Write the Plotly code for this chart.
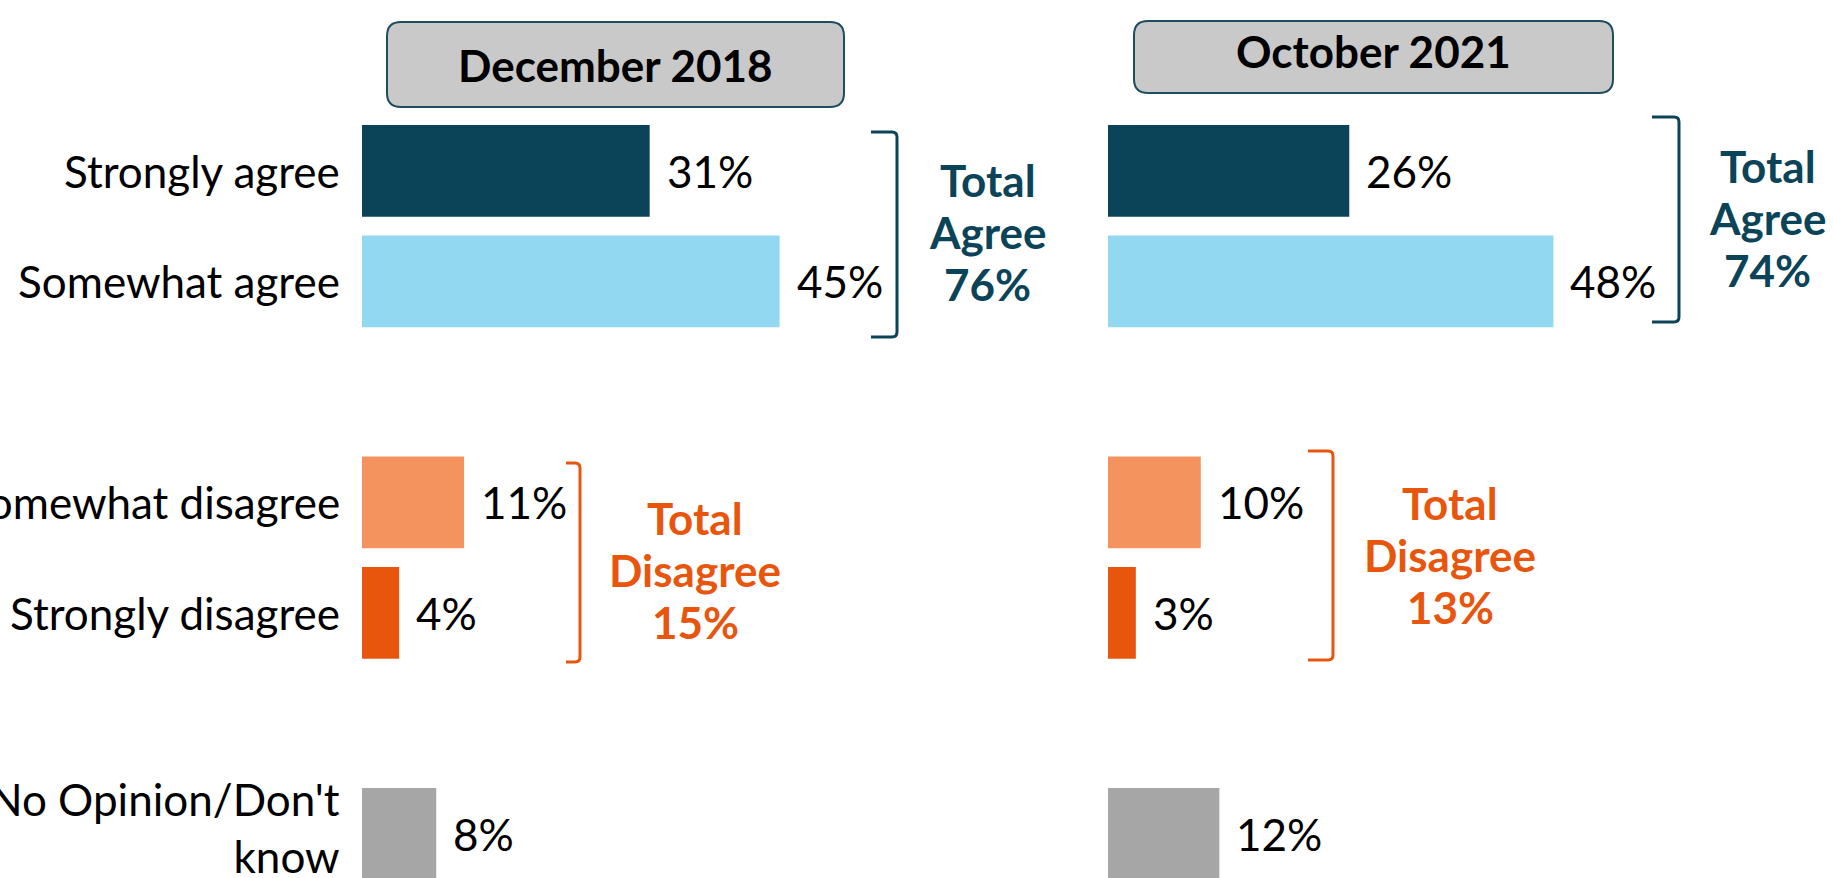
import plotly.graph_objects as go

# ---------------- data ----------------
categories = ["Strongly agree", "Somewhat agree", "Somewhat disagree",
              "Strongly disagree", "No Opinion/Don't<br>know"]
cat_pos = [0, 1, 3, 4, 6]
dec2018 = [31, 45, 11, 4, 8]
oct2021 = [26, 48, 10, 3, 12]
bar_colors = ["#0B4459", "#92D8F1", "#F5935F", "#E8560E", "#A6A6A6"]
panel_titles = ["December 2018", "October 2021"]
agree_words = ["Total", "Agree"]
disagree_words = ["Total", "Disagree"]

# ---------------- layout helpers (pixel geometry) ----------------
FW, FH = 1833, 878
FONT = "Lato"
LBL_SIZE = 44
TEAL = "#0B4459"
ORANGE = "#E8560E"
PX_PER_PCT = 9.28
Y0, PITCH = 170.8, 110.53


def xp(sx):
    return sx / FW


def yp(sy):
    return 1 - sy / FH


fig = go.Figure()

panels = [dec2018, oct2021]
xaxes = ["x", "x2"]
for vals, xa in zip(panels, xaxes):
    fig.add_trace(go.Bar(
        x=vals, y=cat_pos, orientation="h", width=0.83,
        marker=dict(color=bar_colors, line=dict(width=0)),
        xaxis=xa, yaxis="y", showlegend=False, hoverinfo="skip",
    ))
    for v, p in zip(vals, cat_pos):
        fig.add_annotation(
            x=v, y=p, xref=xa, yref="y", text=f"{v}%", showarrow=False,
            xanchor="left", yanchor="middle", xshift=15,
            font=dict(family=FONT, size=LBL_SIZE, color="black"),
        )

# category labels
for cat, p in zip(categories, cat_pos):
    fig.add_annotation(
        x=xp(342), y=p, xref="paper", yref="y", text=cat, showarrow=False,
        xanchor="right", yanchor="middle", align="right",
        yshift=6 if "<br>" in cat else 0,
        font=dict(family=FONT, size=LBL_SIZE, color="black"),
    )

shapes = []


def path_str(pts):
    s = ""
    for cmd, pl in pts:
        s += cmd + " " + " ".join(f"{xp(a):.5f},{yp(b):.5f}" for a, b in pl) + " "
    return s


def rrect(x0, y0, x1, y1, r):
    return path_str([
        ("M", [(x0 + r, y0)]), ("L", [(x1 - r, y0)]), ("Q", [(x1, y0), (x1, y0 + r)]),
        ("L", [(x1, y1 - r)]), ("Q", [(x1, y1), (x1 - r, y1)]),
        ("L", [(x0 + r, y1)]), ("Q", [(x0, y1), (x0, y1 - r)]),
        ("L", [(x0, y0 + r)]), ("Q", [(x0, y0), (x0 + r, y0)]),
    ]) + "Z"


def bracket(xl, xr, yt, yb, r=5):
    return path_str([
        ("M", [(xl, yt)]), ("L", [(xr - r, yt)]), ("Q", [(xr, yt), (xr, yt + r)]),
        ("L", [(xr, yb - r)]), ("Q", [(xr, yb), (xr - r, yb)]), ("L", [(xl, yb)]),
    ])


# header boxes
header_boxes = [(387, 22, 844, 107), (1134, 21, 1613, 93)]
header_text_pos = [(615.5, 65), (1373.5, 51)]
for (x0, y0, x1, y1), (tx, ty), title in zip(header_boxes, header_text_pos, panel_titles):
    shapes.append(dict(type="path", xref="paper", yref="paper",
                       path=rrect(x0, y0, x1, y1, 14),
                       fillcolor="#C9C9C9", line=dict(color="#1D4D5E", width=2),
                       layer="below"))
    fig.add_annotation(x=xp(tx), y=yp(ty), xref="paper", yref="paper", text=f"<b>{title}</b>",
                       showarrow=False, xanchor="center", yanchor="middle",
                       font=dict(family=FONT, size=LBL_SIZE, color="black"))

# brackets
brackets = [
    ((871, 897, 132, 337), TEAL),
    ((1652, 1679, 117, 322), TEAL),
    ((566, 580, 463, 662), ORANGE),
    ((1308, 1333, 451, 660), ORANGE),
]
for (xl, xr, yt, yb), col in brackets:
    shapes.append(dict(type="path", xref="paper", yref="paper",
                       path=bracket(xl, xr, yt, yb),
                       line=dict(color=col, width=3)))

# totals text
tot_agree = [dec2018[0] + dec2018[1], oct2021[0] + oct2021[1]]
tot_dis = [dec2018[2] + dec2018[3], oct2021[2] + oct2021[3]]
total_blocks = [
    (987.5, [180, 232, 284], agree_words + [f"{tot_agree[0]}%"], TEAL),
    (1767.5, [166, 218, 270], agree_words + [f"{tot_agree[1]}%"], TEAL),
    (695, [518, 570, 622], disagree_words + [f"{tot_dis[0]}%"], ORANGE),
    (1450, [503, 555, 607], disagree_words + [f"{tot_dis[1]}%"], ORANGE),
]
for cx, ys, words, col in total_blocks:
    for yy, w in zip(ys, words):
        fig.add_annotation(x=xp(cx), y=yp(yy), xref="paper", yref="paper",
                           text=f"<b>{w}</b>", showarrow=False,
                           xanchor="center", yanchor="middle",
                           font=dict(family=FONT, size=LBL_SIZE, color=col))

fig.update_layout(
    width=FW, height=FH, template="none",
    margin=dict(l=0, r=0, t=0, b=0, pad=0),
    paper_bgcolor="white", plot_bgcolor="rgba(0,0,0,0)",
    shapes=shapes, showlegend=False,
    xaxis=dict(domain=[xp(362), xp(1100)], range=[0, (1100 - 362) / PX_PER_PCT],
               visible=False, anchor="y", fixedrange=True),
    xaxis2=dict(domain=[xp(1108), 1.0], range=[0, (1833 - 1108) / PX_PER_PCT],
                visible=False, anchor="y", fixedrange=True),
    yaxis=dict(domain=[0, 1], range=[(FH - Y0) / PITCH, -Y0 / PITCH],
               showticklabels=False, ticks="",
               showgrid=False, zeroline=False, showline=False,
               automargin=False, anchor="x", fixedrange=True),
)

fig.write_html(
    "out.html",
    config={"displayModeBar": False},
    post_script="document.body.style.margin='0';document.body.style.overflow='hidden';",
)
